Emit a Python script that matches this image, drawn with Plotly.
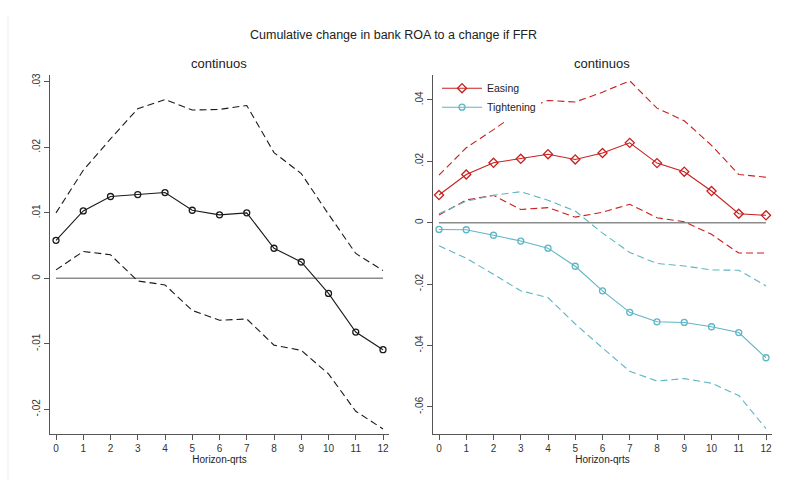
import plotly.graph_objects as go

horizon = list(range(13))

# Left panel: continuous
cont_est = [0.0058, 0.0103, 0.0125, 0.0128, 0.0131, 0.0104, 0.0097, 0.0100, 0.0046, 0.0025, -0.0023, -0.0082, -0.0109]
cont_hi = [0.0100, 0.0165, 0.0213, 0.0259, 0.0273, 0.0257, 0.0258, 0.0264, 0.0192, 0.0160, 0.0098, 0.0038, 0.0012]
cont_lo = [0.0013, 0.0041, 0.0036, -0.0004, -0.0010, -0.0049, -0.0064, -0.0062, -0.0102, -0.0110, -0.0146, -0.0203, -0.0230]

# Right panel: easing / tightening
ease_est = [0.0090, 0.0157, 0.0195, 0.0208, 0.0223, 0.0206, 0.0227, 0.0260, 0.0194, 0.0166, 0.0103, 0.0029, 0.0024]
ease_hi = [0.0155, 0.0244, 0.0303, 0.0365, 0.0398, 0.0393, 0.0425, 0.0462, 0.0373, 0.0332, 0.0252, 0.0157, 0.0148]
ease_lo = [0.0025, 0.0074, 0.0089, 0.0043, 0.0049, 0.0018, 0.0034, 0.0060, 0.0016, 0.0003, -0.0038, -0.0099, -0.0099]
tight_est = [-0.0022, -0.0023, -0.0041, -0.0060, -0.0083, -0.0142, -0.0222, -0.0292, -0.0323, -0.0325, -0.0339, -0.0358, -0.0440]
tight_hi = [0.0029, 0.0070, 0.0089, 0.0101, 0.0073, 0.0038, -0.0034, -0.0097, -0.0133, -0.0141, -0.0154, -0.0155, -0.0206]
tight_lo = [-0.0075, -0.0116, -0.0168, -0.0222, -0.0244, -0.0330, -0.0408, -0.0484, -0.0516, -0.0508, -0.0523, -0.0563, -0.0671]

left_ticks = [-0.02, -0.01, 0, 0.01, 0.02, 0.03]
left_ticktext = ["-.02", "-.01", "0", ".01", ".02", ".03"]
right_ticks = [-0.06, -0.04, -0.02, 0, 0.02, 0.04]
right_ticktext = ["-.06", "-.04", "-.02", "0", ".02", ".04"]

BLACK = "#1a1a1a"
RED = "#c8201e"
CYAN = "#5db6c4"
ZERO = "#8c8c8c"
FONT = "Liberation Sans, Arial, sans-serif"
DASH = "7px,4px"

fig = go.Figure()

def add(x, y, color, dash, xa, ya, name=None, marker=None, show=False, width=1.1):
    kw = dict(x=x, y=y, xaxis=xa, yaxis=ya, showlegend=show, name=name,
              line=dict(color=color, width=width, dash=dash), hoverinfo="skip")
    if marker:
        kw["mode"] = "lines+markers"
        kw["marker"] = dict(symbol=marker, size=6 if "circle" in marker else 7,
                            color=color, line=dict(width=1.3))
    else:
        kw["mode"] = "lines"
    fig.add_trace(go.Scatter(**kw))

# Left
add([0, 12], [0, 0], ZERO, "solid", "x", "y", width=1.5)
add(horizon, cont_hi, BLACK, DASH, "x", "y")
add(horizon, cont_lo, BLACK, DASH, "x", "y")
add(horizon, cont_est, BLACK, "solid", "x", "y", marker="circle-open")

# Right
add([0, 12], [0, 0], ZERO, "solid", "x2", "y2", width=1.5)
add(horizon, ease_hi, RED, DASH, "x2", "y2")
add(horizon, ease_lo, RED, DASH, "x2", "y2")
add(horizon, tight_hi, CYAN, DASH, "x2", "y2")
add(horizon, tight_lo, CYAN, DASH, "x2", "y2")
add(horizon, ease_est, RED, "solid", "x2", "y2", name="Easing", marker="diamond-open", show=True)
add(horizon, tight_est, CYAN, "solid", "x2", "y2", name="Tightening", marker="circle-open", show=True)

W, H = 787, 480
def px_x(p): return p / W
def px_y(p): return 1 - p / H

axis_common = dict(showgrid=False, zeroline=False, showline=True, linecolor="#555555",
                   linewidth=1.3, ticks="outside", ticklen=5, tickcolor="#555555",
                   tickfont=dict(family=FONT, size=10, color="#333333"))

fig.update_layout(
    width=W, height=H, margin=dict(l=0, r=0, t=0, b=0),
    paper_bgcolor="white", plot_bgcolor="white",
    font=dict(family=FONT, color="#222222"),
    xaxis=dict(domain=[px_x(50), px_x(389)], range=[-0.22, 12.22], tickvals=horizon,
               title=dict(text="Horizon-qrts", font=dict(size=10), standoff=0), anchor="y", **axis_common),
    yaxis=dict(domain=[px_y(434), px_y(73)], range=[-0.0238, 0.0311], tickvals=left_ticks,
               ticktext=left_ticktext, tickangle=-90, anchor="x", **axis_common),
    xaxis2=dict(domain=[px_x(433), px_x(772)], range=[-0.22, 12.22], tickvals=horizon,
                title=dict(text="Horizon-qrts", font=dict(size=10), standoff=0), anchor="y2", **axis_common),
    yaxis2=dict(domain=[px_y(434), px_y(73)], range=[-0.0689, 0.0482], tickvals=right_ticks,
                ticktext=right_ticktext, tickangle=-90, anchor="x2", **axis_common),
    legend=dict(x=px_x(437), y=px_y(72), xanchor="left", yanchor="top",
                bgcolor="white", font=dict(family=FONT, size=10.5, color="#222222"),
                tracegroupgap=0, itemwidth=40),
    showlegend=True,
    annotations=[
        dict(text="Cumulative change in bank ROA to a change if FFR", x=px_x(393), y=px_y(33),
             xref="paper", yref="paper", showarrow=False, font=dict(size=12.5, color="#222222"),
             xanchor="center", yanchor="middle"),
        dict(text="continuos", x=px_x(219), y=px_y(62), xref="paper", yref="paper",
             showarrow=False, font=dict(size=13, color="#222222"), xanchor="center", yanchor="middle"),
        dict(text="continuos", x=px_x(602), y=px_y(62), xref="paper", yref="paper",
             showarrow=False, font=dict(size=13, color="#222222"), xanchor="center", yanchor="middle"),
    ],
    shapes=[dict(type="line", xref="paper", yref="paper", x0=px_x(8), x1=px_x(8),
                 y0=px_y(14), y1=0, line=dict(color="#eeeeee", width=1))],
)

fig.write_html("out.html")
